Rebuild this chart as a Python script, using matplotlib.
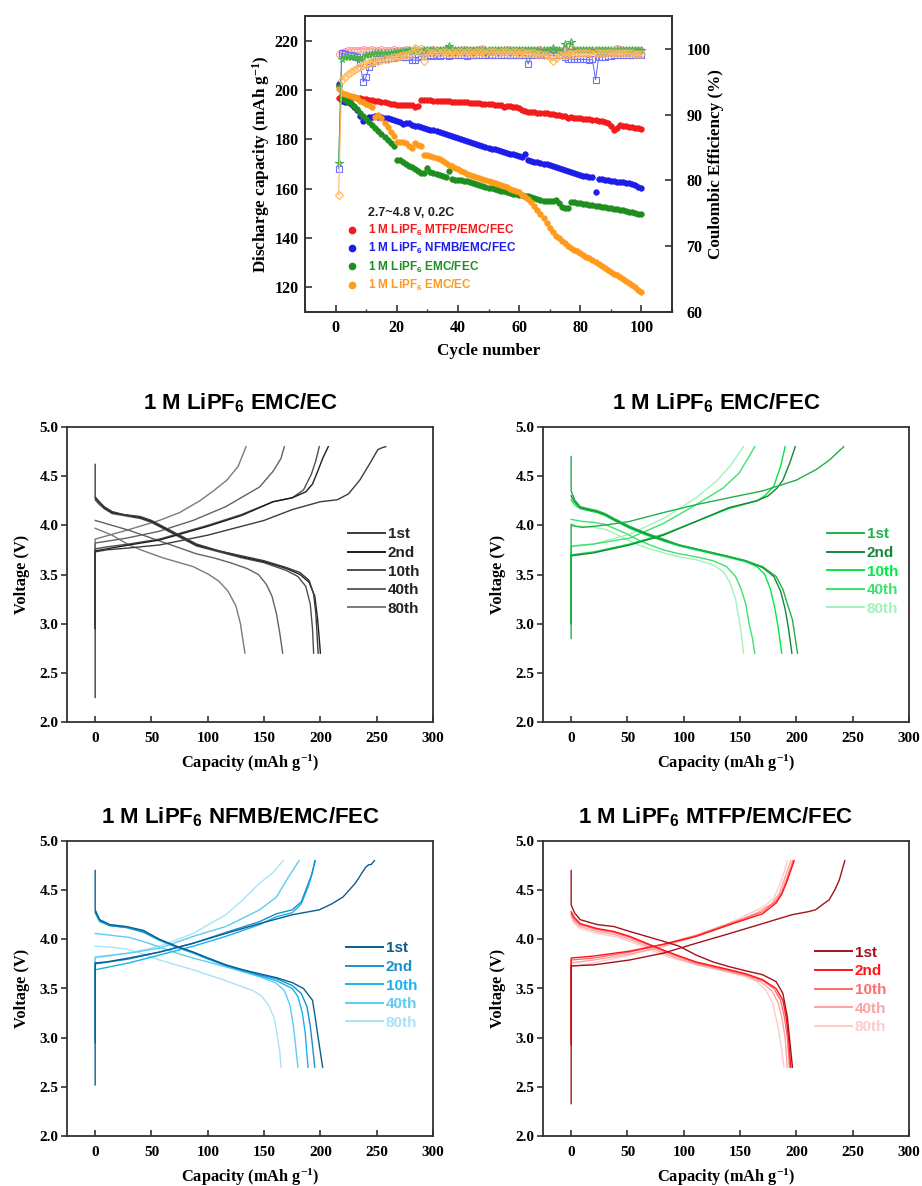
import matplotlib
matplotlib.use("Agg")
import matplotlib.pyplot as plt
from matplotlib.lines import Line2D
from matplotlib.font_manager import FontProperties
from matplotlib.ticker import MultipleLocator

plt.rcParams['mathtext.default'] = 'regular'

SERIF = 'Liberation Serif'
SANS = 'Liberation Sans'

# ---------------- top chart data ----------------
cycles = list(range(1, 101))

cap_mtfp = [196.8, 198.0, 197.8, 197.6, 197.3, 197.0, 196.8, 196.6, 196.4, 196.2,
            196.0, 195.8, 195.6, 195.5, 195.3, 195.1, 194.8, 194.4, 194.2, 194.1,
            194.0, 194.0, 193.9, 193.8, 193.8, 193.3, 193.6, 195.9, 195.9, 195.8,
            195.8, 195.7, 195.7, 195.6, 195.5, 195.5, 195.4, 195.3, 195.3, 195.2,
            195.1, 195.0, 195.0, 194.9, 194.8, 194.7, 194.6, 194.5, 194.4, 194.3,
            194.2, 194.1, 194.0, 193.8, 193.0, 193.6, 193.5, 193.3, 193.1, 192.8,
            191.8, 191.4, 191.2, 191.0, 190.9, 190.8, 190.7, 190.6, 190.5, 190.4,
            190.2, 190.0, 189.8, 189.6, 189.3, 188.6, 189.0, 188.8, 188.6, 188.5,
            188.4, 188.2, 188.1, 188.0, 187.8, 187.6, 187.4, 187.1, 186.6, 185.6,
            183.8, 184.5, 185.8, 185.6, 185.4, 185.2, 185.0, 184.7, 184.4, 184.1]

cap_nfmb = [202.4, 195.5, 195.3, 195.0, 194.3, 193.3, 192.0, 189.5, 187.5, 188.3,
            189.0, 189.2, 189.3, 189.2, 189.0, 188.8, 188.5, 188.2, 187.9, 187.5,
            187.0, 186.3, 186.5, 186.6, 185.9, 185.3, 185.4, 185.0, 184.6, 184.2,
            183.9, 183.6, 183.3, 183.0, 182.6, 182.2, 181.8, 181.4, 181.0, 180.6,
            180.2, 179.8, 179.4, 179.0, 178.6, 178.2, 177.8, 177.4, 177.0, 176.6,
            176.2, 175.9, 175.6, 175.3, 175.0, 174.6, 174.2, 173.9, 173.6, 173.3,
            172.9, 174.0, 171.6, 171.3, 171.0, 170.7, 170.4, 170.1, 169.8, 169.5,
            169.1, 168.7, 168.3, 167.9, 167.5, 167.1, 166.7, 166.3, 165.9, 165.5,
            165.3, 165.0, 164.8, 164.6, 158.5, 164.1, 163.8, 163.6, 163.4, 163.2,
            163.0, 162.9, 162.8, 162.7, 162.5, 162.2, 161.8, 161.3, 160.8, 160.4]

cap_emc_fec = [201.6, 196.6, 196.0, 195.3, 194.6, 193.5, 192.3, 190.8, 189.5, 188.4,
               187.2, 186.0, 184.6, 183.3, 182.0, 180.9, 179.9, 178.6, 177.2, 171.8,
               171.5, 170.8, 170.0, 169.2, 168.6, 168.0, 167.2, 166.4, 166.2, 168.2,
               166.8, 166.3, 165.9, 165.5, 165.0, 164.8, 167.0, 163.8, 163.7, 163.6,
               163.4, 163.2, 163.0, 162.7, 162.3, 161.9, 161.5, 161.1, 160.7, 160.4,
               160.1, 159.8, 159.5, 159.2, 158.9, 158.6, 158.3, 158.0, 157.8, 157.6,
               157.4, 157.2, 156.9, 156.5, 156.1, 155.7, 155.4, 155.2, 155.1, 155.0,
               154.9, 155.5, 154.0, 152.6, 152.0, 152.3, 154.6, 154.5, 154.3, 154.1,
               153.9, 153.7, 153.5, 153.3, 153.1, 152.9, 152.7, 152.5, 152.3, 152.1,
               151.9, 151.7, 151.5, 151.3, 151.0, 150.7, 150.4, 150.1, 149.9, 149.7]

cap_emc_ec = [200.3, 198.6, 198.2, 197.9, 197.6, 197.2, 196.6, 195.6, 195.0, 194.4,
              194.0, 193.3, 189.0, 190.0, 188.8, 186.8, 184.8, 182.8, 181.2, 179.0,
              178.8, 178.9, 178.6, 177.4, 176.5, 178.6, 177.6, 177.2, 173.6, 173.5,
              173.4, 173.0, 172.6, 172.0, 171.2, 170.4, 169.7, 169.0, 168.4, 167.8,
              167.2, 166.6, 166.0, 165.5, 165.1, 164.8, 164.5, 164.1, 163.7, 163.3,
              162.9, 162.5, 162.0, 161.5, 161.0, 160.6, 160.0, 159.4, 159.0, 158.5,
              157.5, 156.8, 155.8, 154.5, 153.0, 151.5, 149.8, 148.0, 146.0, 144.2,
              142.5, 141.0, 139.8, 138.8, 137.8, 136.8, 136.0, 135.3, 134.6, 133.9,
              133.2, 132.5, 131.8, 131.0, 130.2, 129.4, 128.6, 127.8, 127.1, 126.4,
              125.6, 124.8, 124.0, 123.2, 122.5, 121.7, 120.9, 120.0, 119.1, 118.2]

ce_mtfp = [99.2, 99.6, 99.7, 99.8, 99.8, 99.9, 99.9, 99.9, 100.0, 99.9,
           99.9, 100.0, 99.9, 99.9, 100.0, 99.9, 99.9, 99.9, 100.0, 99.9,
           99.9, 99.9, 100.0, 99.9, 99.9, 99.8, 99.7, 100.1, 99.9, 99.9,
           99.9, 100.0, 99.9, 99.9, 99.9, 100.0, 99.9, 99.9, 99.9, 99.9,
           99.9, 100.0, 99.9, 99.9, 99.9, 99.9, 100.0, 100.1, 99.9, 99.9,
           99.9, 99.9, 99.9, 99.9, 99.7, 100.0, 99.9, 99.9, 99.9, 99.8,
           99.8, 99.9, 99.9, 99.9, 99.9, 99.9, 100.0, 99.9, 99.9, 99.9,
           99.9, 99.9, 99.9, 99.9, 99.9, 99.7, 100.0, 99.9, 99.9, 99.9,
           99.9, 99.9, 99.9, 99.9, 99.9, 99.9, 99.9, 99.9, 99.8, 99.7,
           99.6, 100.1, 100.0, 99.9, 99.9, 99.9, 99.9, 99.9, 99.9, 99.9]

ce_nfmb = [81.8, 99.4, 99.2, 99.1, 99.0, 98.9, 98.7, 97.8, 95.0, 95.8,
           97.3, 97.9, 98.2, 98.4, 98.5, 98.5, 98.6, 98.6, 98.6, 98.7,
           98.7, 98.8, 98.8, 98.7, 98.3, 98.3, 98.8, 98.9, 98.9, 98.9,
           99.0, 98.9, 99.0, 98.9, 99.0, 99.0, 98.9, 99.0, 99.0, 99.0,
           99.0, 99.0, 98.9, 99.0, 99.0, 99.0, 99.0, 99.0, 99.0, 99.0,
           99.0, 99.0, 99.0, 99.0, 99.0, 99.0, 99.0, 99.0, 99.0, 99.0,
           99.0, 99.0, 97.7, 99.0, 99.1, 99.1, 99.1, 99.1, 99.1, 99.0,
           99.0, 99.0, 99.0, 99.0, 98.7, 98.5, 98.5, 98.4, 98.4, 98.4,
           98.4, 98.4, 98.3, 98.4, 95.3, 98.7, 98.8, 98.8, 98.9, 98.9,
           99.0, 99.0, 99.0, 99.0, 99.1, 99.1, 99.1, 99.1, 99.1, 99.1]

ce_emc_fec = [82.6, 98.5, 98.7, 98.8, 98.8, 98.7, 98.6, 98.4, 98.8, 99.0,
              99.1, 99.2, 99.3, 99.3, 99.3, 99.3, 99.4, 99.4, 99.5, 99.6,
              99.6, 99.7, 99.7, 99.8, 99.7, 99.8, 99.7, 99.7, 99.8, 99.8,
              99.8, 99.8, 99.9, 99.8, 99.8, 100.0, 100.5, 99.8, 99.8, 99.8,
              99.8, 99.8, 99.8, 99.9, 99.8, 99.8, 99.8, 99.8, 99.8, 99.8,
              99.8, 99.8, 99.8, 99.8, 99.8, 99.8, 99.9, 99.8, 99.8, 99.8,
              99.8, 99.8, 99.8, 99.8, 99.8, 99.8, 99.8, 99.8, 99.8, 99.9,
              100.2, 99.8, 99.8, 99.6, 100.7, 99.6, 101.0, 99.8, 99.8, 99.8,
              99.8, 99.8, 99.8, 99.8, 99.8, 99.8, 99.8, 99.8, 99.8, 99.8,
              99.8, 99.8, 99.8, 99.8, 99.8, 99.8, 99.8, 99.8, 99.8, 99.8]

ce_emc_ec = [77.8, 95.3, 95.8, 96.2, 96.5, 96.8, 97.1, 97.3, 97.5, 97.7,
             97.9, 98.0, 98.1, 98.2, 98.3, 98.4, 98.5, 98.6, 98.7, 98.8,
             98.9, 99.0, 99.1, 99.2, 99.4, 100.2, 99.9, 99.2, 98.2, 99.5,
             99.4, 99.4, 99.5, 99.4, 99.5, 99.5, 99.4, 99.5, 99.4, 99.5,
             99.5, 99.4, 99.5, 99.5, 99.4, 99.5, 99.5, 99.5, 99.4, 99.5,
             99.5, 99.5, 99.4, 99.5, 99.5, 99.5, 99.4, 99.5, 99.5, 99.4,
             99.5, 99.4, 99.4, 99.3, 99.3, 99.2, 99.2, 99.1, 99.0, 98.8,
             98.2, 98.6, 99.0, 99.1, 99.1, 99.2, 99.2, 99.2, 99.3, 99.3,
             99.3, 99.3, 99.3, 99.2, 99.3, 99.3, 99.3, 99.3, 99.3, 99.3,
             99.4, 99.4, 99.4, 99.4, 99.4, 99.3, 99.3, 99.2, 99.2, 99.2]

series_labels = ["1 M LiPF$_6$ MTFP/EMC/FEC", "1 M LiPF$_6$ NFMB/EMC/FEC",
                 "1 M LiPF$_6$ EMC/FEC", "1 M LiPF$_6$ EMC/EC"]
condition_text = "2.7~4.8 V, 0.2C"

# ---------------- voltage profile data ----------------
cycle_labels = ["1st", "2nd", "10th", "40th", "80th"]

# Panel: 1 M LiPF6 EMC/EC
ec_chg_cap = [[0, 0, 10, 30, 57, 100, 130, 150, 175, 200, 215, 225, 235, 245, 251, 255, 258],
              [0, 0, 10, 30, 57, 100, 130, 158, 175, 187, 193, 198, 202, 207],
              [0, 0, 10, 30, 57, 100, 130, 158, 175, 185, 192, 196, 199],
              [0, 0, 28, 57, 87, 116, 146, 158, 165, 168],
              [0, 0, 28, 57, 75, 93, 105, 117, 127, 134]]
ec_chg_v = [[2.25, 3.73, 3.75, 3.77, 3.80, 3.90, 3.99, 4.05, 4.16, 4.24, 4.26, 4.32, 4.46, 4.65, 4.77, 4.79, 4.80],
            [2.95, 3.74, 3.76, 3.80, 3.85, 3.99, 4.10, 4.24, 4.28, 4.34, 4.42, 4.56, 4.68, 4.80],
            [2.95, 3.76, 3.78, 3.81, 3.86, 4.00, 4.11, 4.24, 4.28, 4.36, 4.52, 4.66, 4.80],
            [3.00, 3.82, 3.87, 3.94, 4.05, 4.19, 4.39, 4.55, 4.68, 4.80],
            [3.00, 3.86, 3.95, 4.05, 4.13, 4.25, 4.35, 4.46, 4.60, 4.80]]
ec_dis_cap = [[0, 0, 3, 8, 15, 25, 40, 50, 70, 90, 110, 130, 150, 170, 182, 190, 194, 196, 197, 198],
              [0, 3, 8, 15, 25, 40, 50, 70, 90, 110, 130, 150, 170, 182, 190, 195, 197.5, 199, 200],
              [0, 3, 8, 15, 25, 40, 50, 70, 90, 110, 130, 150, 170, 180, 187, 191, 193, 194],
              [0, 15, 30, 45, 60, 75, 90, 105, 120, 135, 145, 152, 157, 161, 164, 166.5],
              [0, 15, 30, 43, 60, 72, 87, 101, 110, 118, 125, 129, 131, 133]]
ec_dis_v = [[4.62, 4.29, 4.25, 4.19, 4.14, 4.11, 4.09, 4.05, 3.93, 3.81, 3.74, 3.69, 3.64, 3.57, 3.52, 3.44, 3.30, 3.10, 2.90, 2.70],
            [4.28, 4.24, 4.18, 4.13, 4.11, 4.08, 4.04, 3.92, 3.80, 3.74, 3.68, 3.63, 3.56, 3.50, 3.42, 3.28, 3.05, 2.85, 2.70],
            [4.26, 4.22, 4.17, 4.12, 4.10, 4.07, 4.03, 3.91, 3.79, 3.73, 3.67, 3.62, 3.54, 3.48, 3.38, 3.20, 2.95, 2.70],
            [4.05, 4.00, 3.95, 3.89, 3.83, 3.77, 3.71, 3.67, 3.62, 3.56, 3.50, 3.40, 3.28, 3.10, 2.90, 2.70],
            [3.97, 3.90, 3.80, 3.74, 3.67, 3.63, 3.58, 3.50, 3.43, 3.33, 3.18, 3.00, 2.85, 2.70]]

# Panel: 1 M LiPF6 EMC/FEC
fec_chg_cap = [[0, 0, 4, 10, 20, 35, 52, 82, 111, 140, 170, 200, 218, 230, 242],
               [0, 0, 20, 52, 82, 111, 140, 165, 175, 183, 188, 194, 199],
               [0, 0, 20, 52, 82, 111, 140, 165, 172, 180, 186, 190],
               [0, 0, 20, 52, 82, 111, 135, 149, 158, 163],
               [0, 0, 20, 52, 82, 111, 129, 141, 153]]
fec_chg_v = [[2.85, 4.01, 3.99, 3.98, 3.99, 4.01, 4.04, 4.13, 4.21, 4.28, 4.35, 4.46, 4.57, 4.67, 4.80],
             [3.00, 3.69, 3.72, 3.80, 3.90, 4.04, 4.18, 4.25, 4.30, 4.38, 4.46, 4.63, 4.80],
             [3.00, 3.70, 3.73, 3.81, 3.91, 4.04, 4.17, 4.25, 4.30, 4.40, 4.60, 4.80],
             [3.00, 3.79, 3.81, 3.87, 4.02, 4.21, 4.38, 4.53, 4.70, 4.80],
             [3.00, 3.78, 3.81, 3.91, 4.07, 4.28, 4.45, 4.60, 4.80]]
fec_dis_cap = [[0, 0, 3, 8, 15, 23, 30, 38, 52, 67, 82, 96, 111, 126, 141, 155, 170, 182, 188, 192, 196.5, 199, 201],
               [0, 3, 8, 15, 23, 30, 38, 52, 67, 82, 96, 111, 126, 141, 155, 170, 180, 186, 190, 193, 196],
               [0, 3, 8, 15, 23, 30, 38, 52, 67, 82, 96, 111, 126, 141, 155, 165, 172, 177, 181, 184, 187],
               [0, 10, 20, 30, 40, 50, 60, 70, 82, 96, 111, 126, 138, 146, 151, 155, 158, 161, 163],
               [0, 10, 20, 30, 40, 50, 60, 70, 82, 96, 111, 126, 135, 141, 146, 149, 151, 153]]
fec_dis_v = [[4.70, 4.35, 4.26, 4.19, 4.17, 4.15, 4.12, 4.07, 3.99, 3.92, 3.86, 3.80, 3.76, 3.72, 3.68, 3.64, 3.58, 3.48, 3.35, 3.20, 3.04, 2.85, 2.70],
             [4.30, 4.24, 4.18, 4.16, 4.14, 4.11, 4.06, 3.98, 3.91, 3.85, 3.80, 3.76, 3.72, 3.68, 3.64, 3.57, 3.48, 3.33, 3.15, 2.95, 2.70],
             [4.26, 4.21, 4.17, 4.15, 4.13, 4.10, 4.05, 3.97, 3.90, 3.84, 3.79, 3.75, 3.71, 3.67, 3.63, 3.58, 3.50, 3.35, 3.15, 2.95, 2.70],
             [4.06, 4.04, 4.03, 4.01, 3.96, 3.91, 3.85, 3.80, 3.75, 3.71, 3.68, 3.64, 3.58, 3.48, 3.35, 3.20, 3.00, 2.85, 2.70],
             [3.99, 3.99, 3.98, 3.96, 3.91, 3.85, 3.80, 3.76, 3.72, 3.68, 3.65, 3.60, 3.53, 3.42, 3.25, 3.05, 2.90, 2.70]]

# Panel: 1 M LiPF6 NFMB/EMC/FEC
nfmb_chg_cap = [[0, 0, 10, 30, 57, 87, 116, 146, 175, 199, 210, 220, 231, 240, 243, 245, 248],
                [0, 0, 30, 57, 87, 116, 146, 161, 175, 183, 187, 192, 195.5],
                [0, 0, 30, 57, 87, 116, 146, 161, 175, 183, 189, 193, 195],
                [0, 0, 30, 57, 87, 116, 146, 161, 172, 181],
                [0, 0, 30, 57, 87, 116, 131, 146, 158, 167]]
nfmb_chg_v = [[2.52, 3.76, 3.77, 3.81, 3.87, 3.96, 4.06, 4.16, 4.25, 4.30, 4.36, 4.43, 4.57, 4.73, 4.76, 4.76, 4.80],
              [2.95, 3.75, 3.80, 3.87, 3.96, 4.07, 4.18, 4.26, 4.30, 4.38, 4.50, 4.65, 4.80],
              [2.95, 3.69, 3.76, 3.84, 3.93, 4.03, 4.15, 4.23, 4.27, 4.36, 4.53, 4.68, 4.80],
              [3.00, 3.82, 3.86, 3.91, 4.03, 4.13, 4.30, 4.43, 4.64, 4.80],
              [3.00, 3.81, 3.86, 3.93, 4.06, 4.25, 4.40, 4.57, 4.68, 4.80]]
nfmb_dis_cap = [[0, 0, 4, 13, 28, 43, 57, 72, 87, 100, 116, 131, 146, 161, 175, 185, 193, 195.5, 198, 200, 202],
                [0, 4, 13, 28, 43, 57, 72, 87, 100, 116, 131, 146, 161, 175, 183, 188, 191, 193, 195],
                [0, 4, 13, 28, 43, 57, 72, 87, 100, 116, 131, 146, 161, 175, 180, 184, 186.5, 189],
                [0, 15, 30, 45, 60, 75, 87, 100, 116, 131, 146, 160, 168, 173, 176, 178, 180],
                [0, 15, 28, 43, 57, 72, 87, 100, 116, 130, 140, 148, 154, 159, 162, 164, 165]]
nfmb_dis_v = [[4.70, 4.30, 4.20, 4.15, 4.13, 4.09, 4.00, 3.93, 3.87, 3.81, 3.74, 3.69, 3.65, 3.61, 3.56, 3.50, 3.38, 3.20, 3.00, 2.85, 2.70],
              [4.28, 4.19, 4.14, 4.12, 4.08, 4.00, 3.93, 3.87, 3.81, 3.74, 3.69, 3.64, 3.60, 3.53, 3.45, 3.32, 3.12, 2.92, 2.70],
              [4.27, 4.18, 4.14, 4.12, 4.07, 3.99, 3.92, 3.86, 3.80, 3.73, 3.68, 3.63, 3.58, 3.50, 3.42, 3.25, 3.05, 2.70],
              [4.06, 4.04, 4.02, 3.97, 3.91, 3.85, 3.81, 3.77, 3.72, 3.67, 3.62, 3.56, 3.48, 3.33, 3.12, 2.92, 2.70],
              [3.93, 3.92, 3.90, 3.85, 3.79, 3.74, 3.69, 3.64, 3.58, 3.52, 3.48, 3.42, 3.33, 3.20, 3.00, 2.85, 2.70]]

# Panel: 1 M LiPF6 MTFP/EMC/FEC
mtfp_chg_cap = [[0, 0, 20, 52, 82, 111, 141, 170, 196, 210, 217, 224, 229, 234, 238, 243],
                [0, 0, 20, 52, 82, 111, 141, 170, 182, 187, 191, 195, 198],
                [0, 0, 20, 52, 82, 111, 141, 170, 182, 187, 191, 194, 197],
                [0, 0, 20, 52, 82, 111, 141, 165, 178, 185, 189, 192, 195],
                [0, 0, 20, 52, 82, 111, 141, 160, 172, 180, 185, 189, 192]]
mtfp_chg_v = [[2.33, 3.73, 3.74, 3.79, 3.86, 3.96, 4.06, 4.16, 4.25, 4.28, 4.30, 4.36, 4.40, 4.50, 4.60, 4.80],
              [2.93, 3.81, 3.83, 3.88, 3.95, 4.03, 4.15, 4.26, 4.37, 4.46, 4.57, 4.70, 4.80],
              [2.95, 3.79, 3.81, 3.87, 3.95, 4.04, 4.16, 4.28, 4.39, 4.48, 4.60, 4.70, 4.80],
              [2.95, 3.76, 3.79, 3.85, 3.93, 4.03, 4.15, 4.27, 4.36, 4.47, 4.60, 4.70, 4.80],
              [2.95, 3.72, 3.76, 3.84, 3.93, 4.04, 4.17, 4.27, 4.34, 4.42, 4.55, 4.68, 4.80]]
mtfp_dis_cap = [[0, 0, 3, 8, 23, 38, 52, 67, 82, 96, 111, 126, 141, 155, 170, 182, 188, 192, 195, 196.5],
                [0, 3, 8, 23, 38, 52, 67, 82, 96, 111, 126, 141, 155, 170, 182, 188, 191, 193, 195],
                [0, 3, 8, 23, 38, 52, 67, 82, 96, 111, 126, 141, 155, 170, 180, 186, 189.5, 192, 194],
                [0, 3, 8, 23, 38, 52, 67, 82, 96, 111, 126, 141, 155, 168, 178, 184, 187.5, 190, 192],
                [0, 3, 8, 23, 38, 52, 67, 82, 96, 111, 126, 141, 155, 165, 173, 179, 183, 186, 189]]
mtfp_dis_v = [[4.70, 4.35, 4.27, 4.20, 4.15, 4.13, 4.08, 4.03, 3.98, 3.93, 3.84, 3.77, 3.72, 3.68, 3.64, 3.57, 3.45, 3.21, 2.87, 2.70],
              [4.28, 4.22, 4.16, 4.11, 4.08, 4.03, 3.96, 3.89, 3.83, 3.77, 3.73, 3.69, 3.65, 3.59, 3.50, 3.38, 3.20, 3.00, 2.70],
              [4.26, 4.20, 4.15, 4.10, 4.07, 4.02, 3.95, 3.88, 3.82, 3.76, 3.72, 3.68, 3.64, 3.58, 3.50, 3.38, 3.20, 3.00, 2.70],
              [4.24, 4.18, 4.13, 4.08, 4.05, 4.00, 3.93, 3.86, 3.80, 3.75, 3.71, 3.67, 3.63, 3.57, 3.48, 3.35, 3.18, 3.00, 2.70],
              [4.22, 4.16, 4.11, 4.06, 4.03, 3.98, 3.91, 3.84, 3.79, 3.74, 3.70, 3.66, 3.62, 3.57, 3.48, 3.35, 3.15, 2.95, 2.70]]

# ---------------- figure ----------------
W, H = 922, 1186
fig = plt.figure(figsize=(W / 100, H / 100), dpi=100)

def rect(x0, y0, x1, y1):
    return [x0 / W, 1 - y1 / H, (x1 - x0) / W, (y1 - y0) / H]

spine_color = '#333333'
tick_font = FontProperties(family=SERIF, weight='bold', size=11)

# ---- top chart ----
ax = fig.add_axes(rect(305, 16, 672, 312))
ax2 = ax.twinx()
cap_colors = ['#F21B1B', '#1C1CEB', '#1E8E1E', '#FF9A1A']
ce_colors = ['#FF9C9C', '#7070FF', '#4CB04C', '#FFB85C']
ce_markers = ['o', 's', '*', 'D']
ce_sizes = [4.2, 4.2, 5.5, 3.6]
caps = [cap_mtfp, cap_nfmb, cap_emc_fec, cap_emc_ec]
ces = [ce_mtfp, ce_nfmb, ce_emc_fec, ce_emc_ec]

for y, c in zip(caps, cap_colors):
    ax.plot(cycles, y, 'o', color=c, ms=4.0, mec=c, mew=0.5, zorder=3)
for y, c, m, s in zip(ces, ce_colors, ce_markers, ce_sizes):
    ax2.plot(cycles, y, '-', color=c, lw=0.8, marker=m, ms=s, mfc='none', mec=c, mew=0.8)

ax.set_xlim(-10, 110)
ax.set_ylim(110, 230)
ax2.set_ylim(60, 105)
ax.set_xticks([0, 20, 40, 60, 80, 100])
ax.xaxis.set_minor_locator(MultipleLocator(10))
ax.set_yticks([120, 140, 160, 180, 200, 220])
ax2.set_yticks([60, 70, 80, 90, 100])
for a in (ax, ax2):
    for sp in a.spines.values():
        sp.set_linewidth(1.3)
        sp.set_color(spine_color)
    a.tick_params(which='major', width=1.2, length=5, color=spine_color, direction='in')
    a.tick_params(which='minor', width=1.0, length=2.5, color=spine_color, direction='in')
ax.tick_params(axis='x', pad=5.5)
ax.tick_params(axis='y', pad=4.8)
ax2.tick_params(axis='y', pad=10.5)
big_tick = FontProperties(family=SERIF, weight='bold', size=11.5)
for lab in ax.get_xticklabels() + ax.get_yticklabels() + ax2.get_yticklabels():
    lab.set_fontproperties(big_tick)
lab_font = FontProperties(family=SERIF, weight='bold', size=12.3)
ax.set_xlabel("Cycle number", fontproperties=lab_font)
ax.xaxis.set_label_coords(0.5, -0.105)
ax.set_ylabel("Discharge capacity (mAh g$^{-1}$)", fontproperties=lab_font)
ax.yaxis.set_label_coords(-0.09, 0.5)
ax2.set_ylabel("Coulombic Efficiency (%)", fontproperties=lab_font, rotation=90)
ax2.yaxis.set_label_coords(1.097, 0.5)

leg_font = FontProperties(family=SANS, weight='bold', size=8.5)
handles = [Line2D([], [], ls='none', marker='o', color=c, ms=4.5) for c in cap_colors]
leg = ax.legend(handles, series_labels, loc='upper left', bbox_to_anchor=(0.112, 0.30),
                frameon=False, prop=leg_font, handlelength=1.0, handletextpad=0.86,
                labelspacing=0.26, borderpad=0, borderaxespad=0)
for t, c in zip(leg.get_texts(), cap_colors):
    t.set_color(c)
ax.text(0.172, 0.334, condition_text, transform=ax.transAxes, ha='left', va='center',
        fontproperties=FontProperties(family=SANS, weight='bold', size=9), color='#222222')

# ---- voltage panels ----
gray_cols = ['#3C3C3C', '#1E1E1E', '#4E4E4E', '#626262', '#7A7A7A']
gray_txt = ['#222222'] * 5
green_cols = ['#20B04A', '#16843A', '#00EA45', '#3BE36E', '#A2F2B8']
blue_cols = ['#0B5E8C', '#1990CE', '#18B2EE', '#5ECCF4', '#A8E3F8']
red_cols = ['#A3121C', '#FF1515', '#FF6E6E', '#FFA2A2', '#FFCACA']

panels = [
    ("1 M LiPF$_6$ EMC/EC", rect(67, 427, 433, 722), ec_chg_cap, ec_chg_v, ec_dis_cap, ec_dis_v,
     gray_cols, gray_txt, (0.768, 0.51)),
    ("1 M LiPF$_6$ EMC/FEC", rect(543, 427, 909, 722), fec_chg_cap, fec_chg_v, fec_dis_cap, fec_dis_v,
     green_cols, green_cols, (0.776, 0.51)),
    ("1 M LiPF$_6$ NFMB/EMC/FEC", rect(67, 841, 433, 1136), nfmb_chg_cap, nfmb_chg_v, nfmb_dis_cap, nfmb_dis_v,
     blue_cols, blue_cols, (0.762, 0.51)),
    ("1 M LiPF$_6$ MTFP/EMC/FEC", rect(543, 841, 909, 1136), mtfp_chg_cap, mtfp_chg_v, mtfp_dis_cap, mtfp_dis_v,
     red_cols, red_cols, (0.743, 0.495)),
]

title_font = FontProperties(family=SANS, weight='bold', size=16)
panel_leg_font = FontProperties(family=SANS, weight='bold', size=11)
vlab_font = FontProperties(family=SERIF, weight='bold', size=11.8)

for title, r, cc, cv, dc, dv, cols, tcols, anchor in panels:
    a = fig.add_axes(r)
    for i in reversed(range(5)):
        a.plot(cc[i], cv[i], color=cols[i], lw=1.0)
        a.plot(dc[i], dv[i], color=cols[i], lw=1.0)
    a.set_xlim(-25, 300)
    a.set_ylim(2.0, 5.0)
    a.set_xticks([0, 50, 100, 150, 200, 250, 300])
    a.set_yticks([2.0, 2.5, 3.0, 3.5, 4.0, 4.5, 5.0])
    a.set_yticklabels(["2.0", "2.5", "3.0", "3.5", "4.0", "4.5", "5.0"])
    for sp in a.spines.values():
        sp.set_linewidth(1.3)
        sp.set_color(spine_color)
    a.tick_params(axis='x', direction='in', length=4, width=1.2, pad=7, color=spine_color)
    a.tick_params(axis='y', direction='out', length=4, width=1.2, pad=2, color=spine_color)
    for lab in a.get_xticklabels() + a.get_yticklabels():
        lab.set_fontproperties(tick_font)
    a.set_title(title, fontproperties=title_font, pad=13, x=0.473)
    a.set_xlabel("Capacity (mAh g$^{-1}$)", fontproperties=vlab_font)
    a.xaxis.set_label_coords(0.5, -0.105)
    a.set_ylabel("Voltage (V)", fontproperties=vlab_font)
    a.yaxis.set_label_coords(-0.10, 0.5)
    hs = [Line2D([], [], color=c, lw=1.4) for c in cols]
    lg = a.legend(hs, cycle_labels, loc='center left', bbox_to_anchor=anchor, frameon=False,
                  prop=panel_leg_font, handlelength=2.4, handletextpad=0.2,
                  labelspacing=0.3, borderpad=0, borderaxespad=0)
    for t, c in zip(lg.get_texts(), tcols):
        t.set_color(c)

fig.savefig("out.png", dpi=100)
